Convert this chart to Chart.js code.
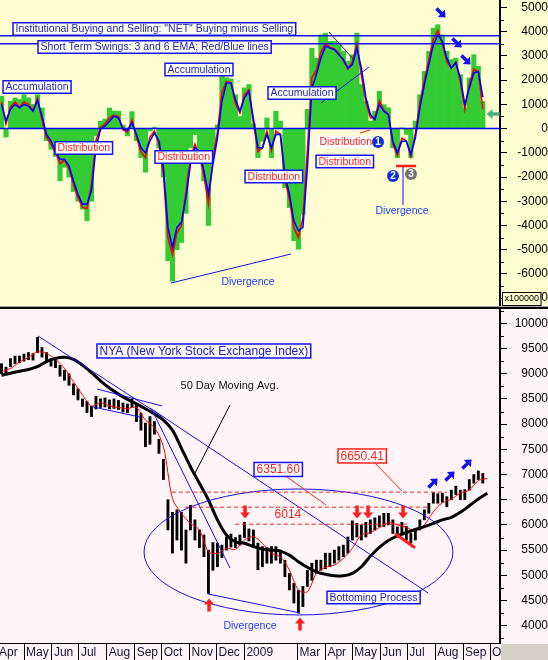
<!DOCTYPE html>
<html>
<head>
<meta charset="utf-8">
<script src="https://cdn.jsdelivr.net/npm/chart.js@4.4.0/dist/chart.umd.min.js"></script>
<style>
  html, body { margin: 0; padding: 0; background: #fff; }
  #wrap { position: relative; width: 548px; height: 660px; overflow: hidden; background: #000; }
  #top { position: absolute; left: 0; top: 0; background: #FFFDD2; }
  #sep { position: absolute; left: 0; top: 306px; width: 548px; height: 1px; background: #a8a8a8; }
  #bot { position: absolute; left: 0; top: 309px; background: #FFF5F8; }
</style>
</head>
<body>
<div id="wrap">
  <canvas id="top" width="548" height="306"></canvas>
  <div id="sep"></div>
  <canvas id="bot" width="548" height="351"></canvas>
</div>
<script>
// x axis = calendar days counted from 1 Apr 2008
const dayMin = 3.32, dayMax = 559.1;

// NET buying/selling and NYA bars, one sample every 5 days
const sampleStart = 5, sampleStep = 5;
const netValues = [
  1340, -350, 1130, 1270, 1200, 1400, 1270, 1000, 1400, 850,
  -500, -850, -1150, -2160, -1600, -2000, -2600, -3000, -3330, -3800,
  -3000, -300, 300, 400, 850, 720, 720, 150, -300, 700,
  -500, -1200, -1800, -100, 50, -800, -2000, -5450, -6300, -5000,
  -4700, -3500, -800, -250, -1350, -2160, -4000, -900, 150, 2300,
  2100, 2050, 1400, 500, 1680, 1820,
  200, -1200, -520, 440, -1200, 720, 310, -2440, -3260, -4630,
  -4980, -3530, 800, 3320, 2910, 3870, 3940, 3600, 3600, 3460,
  3190, 2780, 3050, 3940, 1820, 1130, 310, 720, 1540, 990,
  860, -790, -1200, 30, -240, -1200, 310, 1400, 2360, 3190,
  4150, 4290, 3870, 3190, 2850, 2910, 2230, 860, 2090, 3050,
  2570, 1130
];
const netEma3 = [
  1100, 200, 900, 1100, 900, 1100, 1000, 750, 1250, 350,
  -350, -650, -1000, -1450, -1300, -1650, -2300, -2850, -3250, -3300,
  -2300, -500, 50, 200, 450, 550, 500, -50, -150, 350,
  -350, -950, -1200, -350, -100, -650, -1900, -4500, -5200, -4300,
  -4000, -2600, -1200, -650, -1100, -1950, -3100, -1200, -150, 1500,
  1950, 1900, 1050, 650, 1400, 1600,
  250, -950, -800, -100, -900, -100, -250, -2100, -2900, -4100,
  -4500, -3700, -900, 2100, 2400, 3150, 3500, 3350, 3300, 3100,
  2800, 2450, 2750, 3500, 2200, 1100, 450, 450, 1150, 750,
  600, -650, -1100, -400, -500, -1150, -200, 1050, 2000, 2850,
  3700, 4050, 3500, 2750, 2500, 2750, 1950, 800, 1850, 2450,
  2350, 800
];
const netEma6 = [
  1000, 310, 800, 1000, 860, 1000, 930, 720, 1160, 510,
  -240, -510, -930, -1270, -1270, -1540, -2160, -2710, -3120, -3120,
  -2570, -790, -35, 100, 310, 510, 440, 0, -80, 240,
  -240, -790, -1000, -510, -180, -510, -1610, -4080, -4900, -4080,
  -3870, -2850, -1470, -790, -930, -1750, -2710, -1470, -380, 1130,
  1880, 1880, 1200, 720, 1270, 1540,
  400, -790, -790, -240, -790, -240, -240, -1890, -2710, -3810,
  -4220, -4080, -1610, 1680, 2230, 2910, 3390, 3330, 3260, 3050,
  2850, 2500, 2640, 3330, 2500, 1270, 580, 370, 990, 720,
  580, -520, -1000, -520, -520, -1060, -380, 850, 1820, 2640,
  3460, 3870, 3600, 2910, 2500, 2710, 2090, 990, 1680, 2300,
  2360, 1300
];
const nyaHigh = [
  9200, 9130, 9300, 9350, 9350, 9390, 9420, 9400, 9720, 9520,
  9420, 9300, 9280, 9170, 9070, 9000, 8800, 8700, 8500, 8450,
  8350, 8550, 8500, 8520, 8480, 8500, 8470, 8420, 8400, 8500,
  8380, 8220, 8020, 8150, 8050, 7700, 7300, 6500, 6250, 6300,
  6250, 5900, 6390, 6100, 5900, 5800, 5500, 5650, 5640, 5600,
  5760, 5820, 5750, 5800, 6050, 5920,
  5900, 5640, 5570, 5550, 5570, 5570, 5500, 5300, 5040, 4840,
  4700, 4780, 5100, 5240, 5300, 5300, 5440, 5440, 5500, 5570,
  5600, 5760, 6080, 6030, 6000, 6050, 6100, 6140, 6180, 6230,
  6230, 6100, 5960, 6050, 5970, 5830, 5900, 6100, 6300, 6430,
  6640, 6620, 6630, 6560, 6690, 6770, 6690, 6700, 6900, 7000,
  7070, 7020
];
const nyaLow = [
  9000, 8990, 9140, 9200, 9220, 9250, 9280, 9270, 9420, 9330,
  9250, 9150, 9120, 8950, 8870, 8770, 8580, 8480, 8350, 8230,
  8150, 8300, 8330, 8340, 8300, 8310, 8290, 8240, 8230, 8330,
  8050, 7880, 7550, 7600, 7800, 7420, 6900, 5900, 5440, 5700,
  5500, 5240, 5900, 5700, 5550, 5370, 4640, 5100, 5170, 5350,
  5500, 5560, 5550, 5600, 5750, 5680,
  5570, 5110, 5170, 5240, 5240, 5300, 5240, 4970, 4710, 4450,
  4250, 4380, 4780, 4900, 5040, 5100, 5130, 5170, 5240, 5300,
  5370, 5440, 5700, 5760, 5700, 5760, 5830, 5900, 5960, 5970,
  6000, 5830, 5770, 5830, 5700, 5640, 5700, 5900, 6100, 6230,
  6430, 6430, 6450, 6360, 6500, 6600, 6500, 6500, 6690, 6830,
  6900, 6830
];

// moving averages, one sample every 10 days
const maStart = 5, maStep = 10;
const nyaFast = [
  9040, 9105, 9230, 9325, 9435, 9400, 9285, 9105, 8840, 8580,
  8360, 8425, 8360, 8330, 8310, 8330, 8080, 7935, 7550, 6525,
  6230, 6030, 5900, 5470, 5435, 5535, 5515, 5700, 5767, 5635,
  5435, 5370, 5105, 4710, 4675, 5040, 5160, 5205, 5335, 5535,
  5800, 5845, 5950, 6045, 6000, 5950, 5885, 6000, 6260, 6440,
  6510, 6630, 6690, 6880, 6925
];
const nya50 = [
  8970, 9010, 9050, 9085, 9140, 9240, 9305, 9325, 9285, 9170,
  9020, 8860, 8715, 8595, 8490, 8400, 8305, 8200, 8080, 7880,
  7520, 7155, 6825, 6495, 6100, 5800, 5665, 5635, 5570, 5520,
  5500, 5480, 5400, 5270, 5160, 5070, 5020, 4990, 4990, 5040,
  5170, 5380, 5555, 5690, 5780, 5850, 5910, 5965, 6030, 6100,
  6150, 6250, 6380, 6515, 6630
];

const topTicks = [5000, 4000, 3000, 2000, 1000, 0, -1000, -2000, -3000, -4000, -5000, -6000, -7000];
const topMinor = [4500, 3500, 2500, 1500, 500, -500, -1500, -2500, -3500, -4500, -5500, -6500];
const bottomTicks = [10000, 9500, 9000, 8500, 8000, 7500, 7000, 6500, 6000, 5500, 5000, 4500, 4000];
const bottomMinor = [10250, 9750, 9250, 8750, 8250, 7750, 7250, 6750, 6250, 5750, 5250, 4750, 4250, 3750];
const monthTicks = [0, 30, 61, 91, 122, 153, 183, 214, 244, 275, 334, 365, 395, 426, 456, 487, 518, 548];
const monthLabels = ['Apr', 'May', 'Jun', 'Jul', 'Aug', 'Sep', 'Oct', 'Nov', 'Dec', '2009', 'Mar', 'Apr', 'May', 'Jun', 'Jul', 'Aug', 'Sep', 'Oct'];

const pts = (start, step, vals) => vals.map((v, i) => ({ x: start + i * step, y: v }));
const bars = (start, step, lo, hi) => lo.map((v, i) => ({ x: start + i * step, y: [v, hi[i]] }));

Chart.defaults.font.family = '"Liberation Sans", Arial, sans-serif';
Chart.defaults.font.size = 12;
Chart.defaults.color = '#000';

const BLUE = '#1414f0', TXT = '#2424c0', RED = '#ff1e1e';

// annotations, in data units (days / values)
const topNotes = [
  { kind: 'line', x1: dayMin, y1: 3830, x2: dayMax, y2: 3830, color: BLUE, width: 1.5 },
  { kind: 'line', x1: dayMin, y1: 3500, x2: dayMax, y2: 3500, color: BLUE, width: 1.5 },
  { kind: 'line', x1: dayMin, y1: 0, x2: dayMax, y2: 0, color: '#0000ff', width: 1.5 },
  { kind: 'line', x1: 193.4, y1: -6375, x2: 326.8, y2: -5178, color: BLUE, width: 1 },
  { kind: 'line', x1: 360.1, y1: 1057, x2: 413.5, y2: 2544, color: BLUE, width: 1 },
  { kind: 'line', x1: 369, y1: 3989, x2: 396.8, y2: 2833, color: '#20207a', width: 1 },
  { kind: 'line', x1: 403.5, y1: -182, x2: 414.6, y2: -58, color: RED, width: 1 },
  { kind: 'line', x1: 443.5, y1: -1544, x2: 465.8, y2: -1544, color: RED, width: 2.5 },
  { kind: 'line', x1: 451.3, y1: -1585, x2: 451.3, y2: -3154, color: BLUE, width: 1 },
  { kind: 'box', x: 17.8, y: 4113, text: 'Institutional Buying and Selling: "NET" Buying minus Selling', color: TXT, border: BLUE, fill: '#FFFFF4' },
  { kind: 'box', x: 45.6, y: 3369, text: 'Short Term Swings: 3 and 6 EMA; Red/Blue lines', color: TXT, border: BLUE, fill: '#FFFFF4' },
  { kind: 'box', x: 6.7, y: 1718, text: 'Accumulation', color: TXT, border: BLUE, fill: '#FFFFF4' },
  { kind: 'box', x: 186.7, y: 2440, text: 'Accumulation', color: TXT, border: BLUE, fill: '#FFFFF4' },
  { kind: 'box', x: 301.2, y: 1470, text: 'Accumulation', color: TXT, border: BLUE, fill: '#FFFFF4' },
  { kind: 'box', x: 64.5, y: -800, text: 'Distribution', color: RED, border: BLUE, fill: '#FFFFFF' },
  { kind: 'box', x: 175.6, y: -1173, text: 'Distribution', color: RED, border: BLUE, fill: '#FFFFFF' },
  { kind: 'box', x: 275.7, y: -1978, text: 'Distribution', color: RED, border: BLUE, fill: '#FFFFFF' },
  { kind: 'box', x: 354.6, y: -1358, text: 'Distribution', color: RED, border: BLUE, fill: '#FFFFFF' },
  { kind: 'box', x: 355.7, y: -553, text: 'Distribution', color: RED, fill: '#FFFFFF' },
  { kind: 'num', x: 423.5, y: -553, text: '1', fill: '#1030d8' },
  { kind: 'num', x: 440.2, y: -1957, text: '2', fill: '#1030d8' },
  { kind: 'num', x: 460.2, y: -1874, text: '3', fill: '#707070' },
  { kind: 'text', x: 450.2, y: -3402, text: 'Divergence', color: '#2040ff', center: true },
  { kind: 'text', x: 279, y: -6334, text: 'Divergence', color: '#2040ff', center: true },
  { kind: 'arrow', x: 493.5, y: 4773, ang: Math.PI / 4, color: '#1010f0' },
  { kind: 'arrow', x: 511.3, y: 3535, ang: Math.PI / 4, color: '#1010f0' },
  { kind: 'arrow', x: 521.3, y: 2833, ang: Math.PI / 4, color: '#1010f0' },
  { kind: 'arrow', x: 551.4, y: 603, ang: Math.PI, color: '#4cb084' }
];

const bottomNotes = [
  { kind: 'line', x1: 45.6, y1: 9748, x2: 184.5, y2: 8141, color: BLUE, width: 1 },
  { kind: 'line', x1: 111.1, y1: 8697, x2: 183.4, y2: 8360, color: BLUE, width: 1 },
  { kind: 'line', x1: 106.7, y1: 8340, x2: 159, y2: 8141, color: BLUE, width: 1 },
  { kind: 'line', x1: 172.3, y1: 8280, x2: 259, y2: 5145, color: BLUE, width: 1 },
  { kind: 'line', x1: 170, y1: 8320, x2: 479.1, y2: 4650, color: BLUE, width: 1 },
  { kind: 'line', x1: 234.5, y1: 4630, x2: 336.8, y2: 4253, color: BLUE, width: 1 },
  { kind: 'line', x1: 259, y1: 8379, x2: 220.1, y2: 7030, color: '#000', width: 1 },
  { kind: 'ellipse', x1: 163.4, x2: 506.8, y1: 4213, y2: 6713, color: BLUE },
  { kind: 'line', x1: 194.5, y1: 6650.41, x2: 500.2, y2: 6650.41, color: RED, width: 1, dash: [4, 3] },
  { kind: 'line', x1: 209, y1: 6351.6, x2: 478, y2: 6351.6, color: RED, width: 1, dash: [4, 3] },
  { kind: 'line', x1: 264.5, y1: 6014, x2: 455.7, y2: 6014, color: RED, width: 1, dash: [4, 3] },
  { kind: 'line', x1: 419, y1: 7248, x2: 450.2, y2: 6673, color: RED, width: 1 },
  { kind: 'line', x1: 322.4, y1: 6951, x2: 365.7, y2: 6395, color: RED, width: 1 },
  { kind: 'line', x1: 442.4, y1: 5825, x2: 464.6, y2: 5548, color: RED, width: 3 },
  { kind: 'box', x: 111.1, y: 9451, text: 'NYA (New York Stock Exchange Index)', size: 12, h: 14, color: TXT, border: BLUE, fill: '#FFF8FA' },
  { kind: 'text', x: 201.2, y: 8776, text: '50 Day Moving Avg.', size: 11, color: '#111' },
  { kind: 'box', x: 379, y: 7368, text: '6650.41', size: 12, h: 14, color: RED, border: RED, fill: '#FFFFFF' },
  { kind: 'box', x: 285.7, y: 7100, text: '6351.60', size: 12, h: 14, color: RED, border: BLUE, fill: '#FFFFFF' },
  { kind: 'text', x: 305.7, y: 6217, text: '6014', size: 12, color: RED },
  { kind: 'box', x: 366.8, y: 4560, text: 'Bottoming Process', color: TXT, border: BLUE, fill: '#FFF8FA' },
  { kind: 'text', x: 281.2, y: 3995, text: 'Divergence', color: '#2040ff', center: true },
  { kind: 'arrow', x: 275.7, y: 6256, ang: Math.PI / 2, color: RED },
  { kind: 'arrow', x: 400.2, y: 6256, ang: Math.PI / 2, color: RED },
  { kind: 'arrow', x: 412.4, y: 6256, ang: Math.PI / 2, color: RED },
  { kind: 'arrow', x: 451.3, y: 6256, ang: Math.PI / 2, color: RED },
  { kind: 'arrow', x: 235.7, y: 4411, ang: -Math.PI / 2, color: RED },
  { kind: 'arrow', x: 336.8, y: 4034, ang: -Math.PI / 2, color: RED },
  { kind: 'arrow', x: 484.6, y: 6832, ang: -Math.PI / 4, color: '#1010f0' },
  { kind: 'arrow', x: 503.5, y: 6971, ang: -Math.PI / 4, color: '#1010f0' },
  { kind: 'arrow', x: 522.4, y: 7209, ang: -Math.PI / 4, color: '#1010f0' }
];

function drawArrow(ctx, cx, cy, ang, color) {
  const len = 13, shaft = 3.5, head = 10, headLen = 6;
  const ux = Math.cos(ang), uy = Math.sin(ang), nx = -uy, ny = ux;
  const tx = cx + ux * len / 2, ty = cy + uy * len / 2;
  const bx = cx - ux * len / 2, by = cy - uy * len / 2;
  const hx = tx - ux * headLen, hy = ty - uy * headLen;
  ctx.fillStyle = color;
  ctx.beginPath();
  ctx.moveTo(bx + nx * shaft / 2, by + ny * shaft / 2);
  ctx.lineTo(hx + nx * shaft / 2, hy + ny * shaft / 2);
  ctx.lineTo(hx + nx * head / 2, hy + ny * head / 2);
  ctx.lineTo(tx, ty);
  ctx.lineTo(hx - nx * head / 2, hy - ny * head / 2);
  ctx.lineTo(hx - nx * shaft / 2, hy - ny * shaft / 2);
  ctx.lineTo(bx - nx * shaft / 2, by - ny * shaft / 2);
  ctx.closePath();
  ctx.fill();
}

function drawNotes(chart, items) {
  const { ctx, chartArea: a } = chart;
  const X = v => chart.scales.x.getPixelForValue(v);
  const Y = v => chart.scales.y.getPixelForValue(v);
  ctx.save();
  ctx.beginPath();
  ctx.rect(a.left, a.top, a.right - a.left, a.bottom - a.top);
  ctx.clip();
  items.forEach(n => {
    ctx.save();
    if (n.kind === 'line') {
      ctx.strokeStyle = n.color;
      ctx.lineWidth = n.width || 1;
      ctx.setLineDash(n.dash || []);
      ctx.beginPath();
      ctx.moveTo(X(n.x1), Y(n.y1));
      ctx.lineTo(X(n.x2), Y(n.y2));
      ctx.stroke();
    } else if (n.kind === 'ellipse') {
      const l = X(n.x1), r = X(n.x2), t = Y(n.y2), b = Y(n.y1);
      ctx.strokeStyle = n.color;
      ctx.lineWidth = 1;
      ctx.beginPath();
      ctx.ellipse((l + r) / 2, (t + b) / 2, (r - l) / 2, (b - t) / 2, 0, 0, Math.PI * 2);
      ctx.stroke();
    } else if (n.kind === 'box' || n.kind === 'text') {
      ctx.font = (n.size || 10.5) + 'px "Liberation Sans", Arial, sans-serif';
      const w = ctx.measureText(n.text).width + 5;
      const h = n.h || 12.5;
      let left = X(n.x);
      if (n.center) left -= w / 2;
      const cy = Y(n.y);
      if (n.fill) { ctx.fillStyle = n.fill; ctx.fillRect(left, cy - h / 2, w, h); }
      if (n.border) { ctx.strokeStyle = n.border; ctx.lineWidth = 1.5; ctx.strokeRect(left, cy - h / 2, w, h); }
      ctx.fillStyle = n.color;
      ctx.textBaseline = 'middle';
      ctx.textAlign = 'left';
      ctx.fillText(n.text, left + 2.5, cy + 0.5);
    } else if (n.kind === 'num') {
      const cx = X(n.x), cy = Y(n.y);
      ctx.fillStyle = n.fill;
      ctx.beginPath();
      ctx.arc(cx, cy, 6, 0, Math.PI * 2);
      ctx.fill();
      ctx.fillStyle = '#fff';
      ctx.font = 'bold 10px "Liberation Sans", Arial, sans-serif';
      ctx.textAlign = 'center';
      ctx.textBaseline = 'middle';
      ctx.fillText(n.text, cx, cy + 0.5);
    } else if (n.kind === 'arrow') {
      drawArrow(ctx, X(n.x), Y(n.y), n.ang, n.color);
    }
    ctx.restore();
  });
  ctx.restore();
}

// one plugin per chart; notes and minor ticks are held in the closure
function notesPlugin(items, minor, multiplier, corner) {
  return {
    id: 'notes',
    afterDatasetsDraw(chart) { drawNotes(chart, items); },
    afterDraw(chart) {
      const { ctx, chartArea: a } = chart;
      const ys = chart.scales.y;
      ctx.save();
      ctx.strokeStyle = '#000';
      ctx.lineWidth = 1;
      ctx.beginPath();
      minor.forEach(v => {
        const py = Math.round(ys.getPixelForValue(v)) + 0.5;
        if (py < a.top || py > a.bottom) return;
        ctx.moveTo(a.right, py);
        ctx.lineTo(a.right + 4, py);
      });
      ctx.stroke();
      if (multiplier) {
        ctx.font = '9px "Liberation Sans", Arial, sans-serif';
        const w = ctx.measureText('x100000').width + 4;
        ctx.fillStyle = '#FFFDD2';
        ctx.fillRect(a.right + 2, a.bottom - 14, w, 13);
        ctx.strokeRect(a.right + 2.5, a.bottom - 13.5, w, 13);
        ctx.fillStyle = '#000';
        ctx.textBaseline = 'middle';
        ctx.fillText('x100000', a.right + 4.5, a.bottom - 7);
      }
      if (corner) {
        ctx.fillStyle = '#D4D0C8';
        ctx.fillRect(a.right + 1, a.bottom + 1, chart.width - a.right, chart.height - a.bottom);
      }
      ctx.restore();
    }
  };
}

function yAxis(ticks, min, max, padding) {
  return {
    position: 'right', min, max,
    afterBuildTicks: s => { s.ticks = ticks.map(v => ({ value: v })); },
    afterFit: s => { s.width = 48; s.paddingTop = 0; s.paddingBottom = 0; },
    ticks: { callback: v => String(v), padding, crossAlign: 'far', color: '#000', font: { size: 12 } },
    grid: { drawOnChartArea: false, drawTicks: true, tickLength: 7, tickColor: '#000', tickWidth: 1 },
    border: { display: true, color: '#000', width: 2 }
  };
}

new Chart(document.getElementById('top'), {
  type: 'bar',
  data: {
    datasets: [
      { type: 'line', label: '6 EMA', data: pts(sampleStart, sampleStep, netEma6), borderColor: '#0000ff', borderWidth: 1.6, pointRadius: 0, tension: 0, order: 1 },
      { type: 'line', label: '3 EMA', data: pts(sampleStart, sampleStep, netEma3), borderColor: '#ff0000', borderWidth: 1.6, pointRadius: 0, tension: 0, order: 2 },
      { type: 'bar', label: 'NET', data: pts(sampleStart, sampleStep, netValues), backgroundColor: '#33cc33', barPercentage: 1, categoryPercentage: 1, order: 3 }
    ]
  },
  options: {
    responsive: false, animation: false,
    layout: { padding: 0 },
    plugins: { legend: { display: false }, tooltip: { enabled: false } },
    scales: {
      x: { type: 'linear', min: dayMin, max: dayMax, offset: false, display: false, grid: { offset: false } },
      y: yAxis(topTicks, -7325, 5310, 8)
    }
  },
  plugins: [notesPlugin(topNotes, topMinor, true, false)]
});

new Chart(document.getElementById('bot'), {
  type: 'bar',
  data: {
    datasets: [
      { type: 'line', label: '50 Day Moving Avg.', data: pts(maStart, maStep, nya50), borderColor: '#000', borderWidth: 3, pointRadius: 0, tension: 0.3, order: 1 },
      { type: 'line', label: 'Short MA', data: pts(maStart, maStep, nyaFast), borderColor: '#ff0000', borderWidth: 1, pointRadius: 0, tension: 0.3, order: 2 },
      { type: 'bar', label: 'NYA', data: bars(sampleStart, sampleStep, nyaLow, nyaHigh), backgroundColor: '#000', barThickness: 2.2, order: 3 }
    ]
  },
  options: {
    responsive: false, animation: false,
    layout: { padding: 0 },
    plugins: { legend: { display: false }, tooltip: { enabled: false } },
    scales: {
      x: {
        type: 'linear', min: dayMin, max: dayMax, offset: false,
        afterBuildTicks: s => { s.ticks = monthTicks.map(v => ({ value: v })); },
        afterFit: s => { s.height = 17; s.paddingLeft = 0; s.paddingRight = 0; },
        ticks: { callback: (v, i) => monthLabels[i], autoSkip: false, maxRotation: 0, align: 'start', labelOffset: 2, padding: -14.5, color: '#141438', font: { size: 12 } },
        grid: { offset: false, drawOnChartArea: false, drawTicks: true, tickLength: 17, tickColor: '#000', tickWidth: 1 },
        border: { display: true, color: '#000', width: 1 }
      },
      y: yAxis(bottomTicks, 3657, 10284, 6)
    }
  },
  plugins: [notesPlugin(bottomNotes, bottomMinor, false, true)]
});
</script>
</body>
</html>
